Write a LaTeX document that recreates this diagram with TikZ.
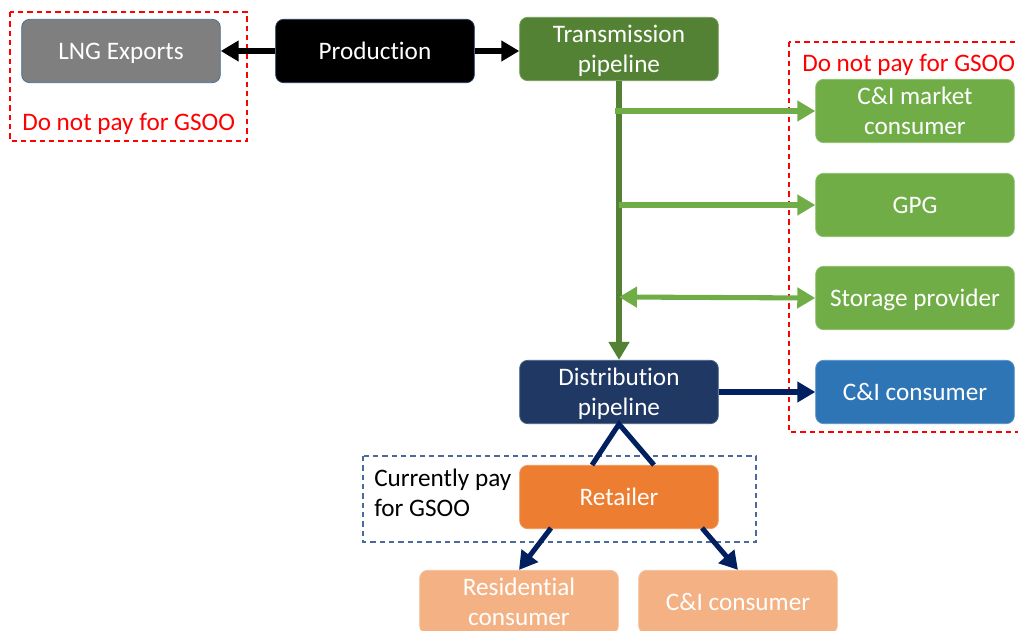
\documentclass[tikz,border=0pt]{standalone}
\usepackage{fontspec}
\setmainfont{Carlito}[Ligatures=NoCommon]
\usetikzlibrary{arrows.meta}
\definecolor{lnggray}{HTML}{7F7F7F}
\definecolor{edgeblue}{HTML}{41719C}
\definecolor{darkgreen}{HTML}{548235}
\definecolor{lightgreen}{HTML}{70AD47}
\definecolor{midblue}{HTML}{2E75B6}
\definecolor{navybox}{HTML}{203864}
\definecolor{navyline}{HTML}{002060}
\definecolor{orangebox}{HTML}{ED7D31}
\definecolor{peach}{HTML}{F4B183}
\definecolor{slate}{HTML}{4A6A9C}
\tikzset{
  x=0.75pt, y=-0.75pt,
  box/.style={rounded corners=6pt, minimum width=149pt, minimum height=47.5pt,
    text=white, align=center, inner sep=2pt, text depth=0pt,
    font=\fontsize{18.9}{22.5}\selectfont, line width=0.6pt},
  lbl/.style={font=\fontsize{18.9}{22.5}\selectfont, inner sep=0pt, align=left},
  redbox/.style={draw=red, line width=0.9pt, dash pattern=on 4pt off 3pt},
  bluebox/.style={draw=slate, line width=0.9pt, dash pattern=on 4pt off 3pt},
  flow/.style={line width=3.8pt, -{Triangle[length=13.5pt,width=15pt]}},
  flowboth/.style={line width=3.8pt, {Triangle[length=13.5pt,width=15pt]}-{Triangle[length=13.5pt,width=15pt]}},
}
\begin{document}
\begin{tikzpicture}
\useasboundingbox (0,0) rectangle (1018,631);
\clip (0,0) rectangle (1018,631);

% grouping frames
\draw[redbox] (10,12) rectangle (247,141);
\draw[redbox] (789,42) rectangle (1030,432);
\draw[bluebox] (363,456) rectangle (756,542);

\node[lbl, text=red, anchor=west] (nopay1) at (22,124) {Do not pay for GSOO};
\node[lbl, text=red, anchor=west] (nopay2) at (802,65) {Do not pay for GSOO};
\node[lbl, text=black, anchor=west, align=left] (paynow) at (374,493) {Currently pay\\for GSOO};

% supply chain boxes
\node[box, fill=lnggray, draw=edgeblue] (lng) at (121,51) {LNG Exports};
\node[box, fill=black, draw=navybox] (prod) at (375,51) {Production};
\node[box, fill=darkgreen, draw=darkgreen!80!white] (trans) at (619,49) {Transmission\\pipeline};
\node[box, fill=lightgreen, draw=lightgreen!80!white] (cimkt) at (915,111) {C\&I market\\consumer};
\node[box, fill=lightgreen, draw=lightgreen!80!white] (gpg) at (915,205) {GPG};
\node[box, fill=lightgreen, draw=lightgreen!80!white] (stor) at (915,298) {Storage provider};
\node[box, fill=midblue, draw=midblue!80!white] (cicons) at (915,392) {C\&I consumer};
\node[box, fill=navybox, draw=navybox!80!white] (dist) at (619,392) {Distribution\\pipeline};
\node[box, fill=orangebox, draw=orangebox!80!white] (ret) at (619,497) {Retailer};
\node[box, fill=peach, draw=peach!80!white] (resi) at (519,602) {Residential\\consumer};
\node[box, fill=peach, draw=peach!80!white] (cires) at (738,602) {C\&I consumer};

% branch points on the transmission trunk
\coordinate (b1) at (615,111);
\coordinate (b2) at (619,205);
\coordinate (b3) at (619,297);

% connectors
\draw[flow, black] (prod.west) -- (lng.east);
\draw[flow, black] (prod.east) -- (trans.west |- prod.east);
\draw[flow, darkgreen] (trans.south) -- (dist.north);
\draw[flow, lightgreen] (b1) -- (cimkt.west);
\draw[flow, lightgreen] (b2) -- (gpg.west);
\draw[flowboth, lightgreen] (b3) -- (stor.west);
\draw[flow, navyline] (dist.east) -- (cicons.west);
\draw[line width=3.8pt, navyline] (592,465) -- (dist.south) -- (654,465);
\draw[flow, navyline] (551,528) -- (resi.north);
\draw[flow, navyline] (702,528) -- (cires.north);
\end{tikzpicture}
\end{document}
